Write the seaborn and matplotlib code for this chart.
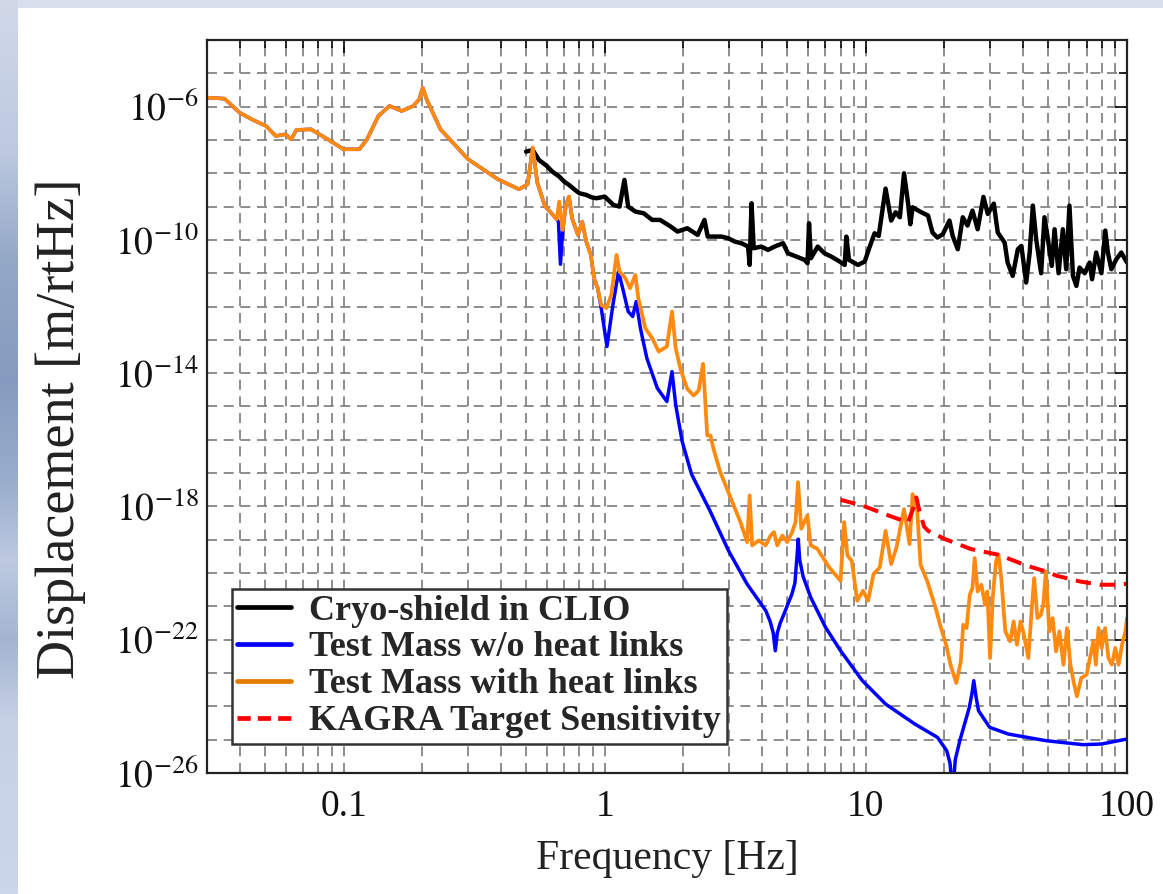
import numpy as np
import pandas as pd
import matplotlib
matplotlib.use("Agg")
import matplotlib.pyplot as plt
import seaborn as sns
from matplotlib.ticker import FixedLocator, NullFormatter, FixedFormatter
from matplotlib.lines import Line2D
from matplotlib.patches import Rectangle

# ---------------- data (frequency in Hz, displacement as log10 [m/rtHz]) -------------
# shared low-frequency part of both test-mass curves
low_f = [0.030, 0.035, 0.040, 0.045, 0.0505, 0.055, 0.060, 0.063, 0.066, 0.075,
         0.087, 0.100, 0.115, 0.123, 0.136, 0.150, 0.167, 0.185, 0.195, 0.201,
         0.208, 0.235, 0.300, 0.390, 0.470, 0.507, 0.530, 0.552, 0.590, 0.655]
low_logd = [-5.73, -5.76, -6.18, -6.40, -6.58, -6.88, -6.83, -6.98, -6.70, -6.68,
            -6.98, -7.28, -7.28, -6.98, -6.28, -5.98, -6.13, -5.98, -5.78, -5.43,
            -5.78, -6.68, -7.58, -8.18, -8.48, -8.33, -7.23, -8.28, -8.98, -9.38]

# Test Mass with heat links (orange), above 0.655 Hz
with_f = [0.670, 0.690, 0.710, 0.730, 0.750, 0.790, 0.820, 0.850, 0.885, 0.910,
          0.940, 0.970, 1.015, 1.060, 1.110, 1.140, 1.200, 1.250, 1.310, 1.345,
          1.430, 1.520, 1.610, 1.730, 1.810, 1.870, 1.950, 2.070, 2.190, 2.290,
          2.380, 2.470, 2.540, 2.610, 2.770, 2.940, 3.120, 3.310, 3.510, 3.590,
          3.670, 3.890, 4.130, 4.320, 4.450, 4.580, 4.790, 5.000, 5.220, 5.380,
          5.500, 5.660, 5.970, 6.150, 6.520, 6.900, 7.240, 8.000, 8.260, 8.500,
          8.830, 9.270, 9.750, 10.20, 10.70, 11.30, 11.90, 12.50, 13.10, 14.00,
          14.70, 15.10, 15.70, 16.20, 17.20, 18.50, 19.40, 20.30, 21.10, 22.20,
          23.10, 23.60, 24.30, 25.00, 25.60, 26.10, 26.80, 27.70, 28.60, 29.20,
          29.90, 30.60, 31.50, 32.20, 33.00, 34.20, 35.70, 36.80, 37.90, 39.10,
          40.30, 41.90, 43.20, 44.10, 45.40, 46.80, 47.80, 48.90, 50.40, 51.90,
          53.50, 55.10, 57.10, 58.90, 60.70, 62.40, 64.30, 66.80, 70.00, 72.10,
          74.30, 76.00, 77.80, 80.00, 82.40, 84.90, 87.50, 90.20, 92.90, 95.70,
          98.60, 100.0]
with_logd = [-8.85, -9.70, -8.95, -8.70, -9.35, -9.85, -9.45, -10.05, -10.45, -11.15,
             -11.45, -11.95, -12.05, -11.65, -10.45, -10.95, -11.15, -11.45, -11.05, -11.75,
             -12.65, -12.95, -13.35, -13.20, -12.15, -13.25, -13.87, -14.47, -14.67, -14.52,
             -13.72, -15.87, -15.87, -16.27, -16.97, -17.47, -17.97, -18.47, -19.07, -17.67,
             -19.17, -19.02, -19.17, -18.87, -18.77, -19.17, -18.87, -19.07, -18.77, -18.47,
             -17.27, -18.67, -18.27, -19.17, -19.27, -19.57, -19.83, -20.23, -18.47, -19.47,
             -19.63, -20.83, -20.53, -20.83, -20.03, -19.83, -18.73, -19.73, -19.23, -18.08,
             -19.13, -17.63, -18.03, -19.75, -20.25, -21.05, -21.65, -22.15, -22.75, -23.30,
             -22.65, -21.55, -21.65, -20.65, -20.45, -19.55, -20.55, -20.35, -20.95, -20.55,
             -22.55, -20.75, -19.65, -19.45, -20.15, -21.75, -22.05, -21.45, -22.15, -21.45,
             -21.85, -22.55, -21.05, -20.15, -21.35, -21.25, -20.95, -19.95, -21.75, -21.35,
             -22.35, -21.75, -22.75, -21.65, -22.75, -23.25, -23.70, -23.15, -23.05, -22.55,
             -22.05, -22.75, -21.65, -22.25, -21.65, -22.55, -22.75, -22.25, -22.75, -22.15,
             -21.75, -21.35]

# Test Mass w/o heat links (blue), above 0.655 Hz
wo_f = [0.665, 0.677, 0.690, 0.710, 0.730, 0.750, 0.790, 0.820, 0.850, 0.885,
        0.910, 0.940, 0.970, 1.020, 1.075, 1.130, 1.180, 1.230, 1.280, 1.320,
        1.370, 1.450, 1.590, 1.730, 1.810, 1.870, 1.980, 2.150, 2.530, 2.980,
        3.510, 4.140, 4.300, 4.420, 4.500, 4.580, 4.700, 4.800, 5.210, 5.350,
        5.450, 5.510, 5.580, 5.750, 6.150, 7.010, 8.000, 9.700, 11.90, 15.40,
        18.80, 20.40, 21.00, 21.50, 22.00, 22.90, 24.90, 25.50, 25.90, 26.40,
        27.00, 29.80, 35.10, 48.90, 67.80, 80.00, 100.0]
wo_logd = [-9.45, -10.73, -9.75, -8.95, -8.70, -9.35, -9.85, -9.45, -10.05, -10.45,
           -11.15, -11.45, -12.05, -13.20, -11.95, -10.95, -11.55, -12.15, -12.30, -11.85,
           -12.65, -13.55, -14.45, -14.85, -13.95, -14.95, -16.05, -17.03, -18.13, -19.33,
           -20.33, -21.13, -21.45, -21.80, -22.33, -21.80, -21.50, -21.33, -20.63, -20.30,
           -19.50, -18.98, -19.60, -20.10, -20.73, -21.63, -22.33, -23.23, -23.93, -24.53,
           -24.93, -25.33, -25.70, -26.60, -25.60, -25.03, -24.03, -23.60, -23.23, -23.70,
           -24.13, -24.63, -24.83, -25.03, -25.15, -25.13, -24.98]

# Cryo-shield in CLIO (black)
clio_f = [0.50, 0.53, 0.56, 0.60, 0.63, 0.67, 0.70, 0.73, 0.77, 0.80,
          0.85, 0.89, 0.93, 1.00, 1.08, 1.14, 1.19, 1.23, 1.31, 1.41,
          1.52, 1.63, 1.79, 1.90, 2.07, 2.27, 2.41, 2.48, 2.80, 2.97,
          3.15, 3.34, 3.54, 3.59, 3.65, 3.72, 3.98, 4.22, 4.47, 4.82,
          5.03, 5.42, 5.83, 5.98, 6.06, 6.16, 6.54, 6.94, 7.37, 7.94,
          8.30, 8.42, 8.62, 9.33, 9.90, 10.3, 10.8, 11.2, 11.9, 12.5,
          13.0, 13.5, 14.0, 14.5, 14.8, 15.1, 16.3, 17.3, 18.0, 18.8,
          19.7, 20.9, 21.5, 22.5, 23.5, 24.5, 25.6, 26.8, 28.2, 29.3,
          30.9, 32.0, 34.0, 34.9, 36.5, 38.2, 39.4, 41.1, 42.4, 43.6,
          44.9, 46.9, 48.3, 49.8, 51.5, 52.8, 54.7, 56.8, 58.5, 60.2,
          62.1, 64.0, 65.8, 68.9, 71.9, 73.5, 76.2, 79.8, 82.6, 84.5,
          87.1, 91.0, 95.1, 100.0]
clio_logd = [-7.35, -7.30, -7.60, -7.78, -7.95, -8.10, -8.25, -8.35, -8.50, -8.60,
             -8.65, -8.72, -8.75, -8.70, -8.95, -9.00, -8.20, -9.00, -9.15, -9.20,
             -9.40, -9.40, -9.60, -9.75, -9.65, -9.85, -9.40, -9.90, -9.90, -9.95,
             -10.05, -10.10, -10.20, -10.75, -8.90, -10.25, -10.20, -10.30, -10.20, -10.10,
             -10.40, -10.50, -10.60, -10.70, -9.50, -10.55, -10.20, -10.40, -10.50, -10.65,
             -10.75, -9.90, -10.60, -10.75, -10.65, -10.25, -9.80, -9.88, -8.46, -9.42,
             -9.17, -9.32, -8.00, -8.88, -9.53, -9.02, -9.17, -9.27, -9.78, -9.93,
             -9.83, -9.42, -9.88, -10.28, -9.32, -9.57, -9.12, -9.68, -8.71, -9.22,
             -8.91, -9.78, -10.08, -10.68, -11.08, -10.28, -10.18, -11.28, -10.38, -8.97,
             -9.98, -11.00, -9.32, -9.98, -10.78, -9.68, -11.00, -9.68, -10.88, -8.97,
             -11.08, -11.38, -10.83, -11.00, -10.68, -11.18, -10.38, -11.00, -9.72, -10.38,
             -10.88, -10.58, -10.38, -10.68]

# KAGRA Target Sensitivity (red dashed)
kagra_f = [8.0, 9.75, 12.3, 14.5, 15.2, 15.6, 16.0, 16.7, 17.3, 20.1,
           25.3, 32.2, 41.4, 48.9, 53.8, 65.9, 78.7, 90.0, 100.0]
kagra_logd = [-17.80, -17.98, -18.28, -18.48, -18.05, -17.73, -18.10, -18.60, -18.73, -18.98,
              -19.28, -19.45, -19.78, -19.95, -20.08, -20.25, -20.35, -20.35, -20.32]

labels = ["Cryo-shield in CLIO", "Test Mass w/o heat links",
          "Test Mass with heat links", "KAGRA Target Sensitivity"]
y_major_exp = [-26, -22, -18, -14, -10, -6]
x_major = [0.1, 1, 10, 100]
x_major_labels = ["0.1", "1", "10", "100"]

# ---------------- build frames -------------
def frame(f, logd):
    return pd.DataFrame({"f": np.asarray(f, float), "d": 10.0 ** np.asarray(logd, float)})

df_clio = frame(clio_f, clio_logd)
df_wo = frame(low_f + wo_f, low_logd + wo_logd)
df_with = frame(low_f + with_f, low_logd + with_logd)
df_kagra = frame(kagra_f, kagra_logd)

# ---------------- style -------------
sns.set_theme(style="white")
plt.rcParams['font.family'] = ['Liberation Serif', 'DejaVu Serif']
plt.rcParams['mathtext.fontset'] = 'stix'

W, H = 1163, 894
fig = plt.figure(figsize=(W / 100, H / 100), dpi=100)
fig.patch.set_facecolor('#d8dfec')

# slide-like background: blue gradient strip at the left, white panel
bg = fig.add_axes([0, 0, 1, 1], zorder=-10)
bg.set_xlim(0, W)
bg.set_ylim(H, 0)
bg.axis('off')
stops_y = np.array([0, 150, 260, 380, 480, 560, 640, 720, 894])
stops_c = np.array([[0.82, 0.85, 0.91], [0.74, 0.79, 0.88], [0.58, 0.66, 0.78],
                    [0.52, 0.61, 0.75], [0.60, 0.68, 0.80], [0.74, 0.79, 0.88],
                    [0.64, 0.71, 0.82], [0.78, 0.82, 0.90], [0.80, 0.84, 0.92]])
yy = np.arange(H)
grad = np.stack([np.interp(yy, stops_y, stops_c[:, k]) for k in range(3)], axis=-1)
grad = np.repeat(grad[:, None, :], 2, axis=1)
bg.imshow(grad, extent=[0, 18, H, 0], aspect='auto', interpolation='bilinear')
bg.add_patch(Rectangle((18, 8), W - 18, H - 8, facecolor='white', edgecolor='none'))

ax = fig.add_axes([207 / W, (H - 773) / H, 920 / W, 733 / H])
ax.set_facecolor('white')
ax.set_xscale('log')
ax.set_yscale('log')

grid_kw = dict(color='#7a7a7a', linewidth=1.2, linestyle=(0, (6, 4)))
ax.grid(True, which='both', axis='both', **grid_kw)
ax.set_axisbelow(True)

sns.lineplot(data=df_clio, x='f', y='d', ax=ax, color='black', linewidth=3.2,
             estimator=None, sort=False, legend=False)
sns.lineplot(data=df_wo, x='f', y='d', ax=ax, color='#0000ff', linewidth=2.5,
             estimator=None, sort=False, legend=False)
sns.lineplot(data=df_with, x='f', y='d', ax=ax, color='#ff8a0f', linewidth=2.7,
             estimator=None, sort=False, legend=False)
sns.lineplot(data=df_kagra, x='f', y='d', ax=ax, color='#ff0000', linewidth=2.9,
             estimator=None, sort=False, legend=False)
ax.lines[-1].set_dashes([3.8, 2.2])

ax.set_xlim(0.03, 100)
ax.set_ylim(1e-26, 1e-4)

# ticks
ax.xaxis.set_major_locator(FixedLocator(x_major))
ax.xaxis.set_major_formatter(FixedFormatter(x_major_labels))
xminor = [m * 10.0 ** e for e in range(-2, 2) for m in range(2, 10)]
xminor = [v for v in xminor if 0.03 <= v <= 100]
ax.xaxis.set_minor_locator(FixedLocator(xminor))
ax.xaxis.set_minor_formatter(NullFormatter())

ax.yaxis.set_major_locator(FixedLocator([10.0 ** e for e in y_major_exp]))
ax.yaxis.set_major_formatter(FixedFormatter([r"$10^{%d}$" % e for e in y_major_exp]))
ax.yaxis.set_minor_locator(FixedLocator([10.0 ** e for e in range(-26, -3) if e not in y_major_exp]))
ax.yaxis.set_minor_formatter(NullFormatter())

ax.tick_params(which='both', direction='in', top=True, right=True, colors='black',
               labelcolor='#111111', width=1.2)
ax.tick_params(which='major', length=9)
ax.tick_params(which='minor', length=6)
ax.tick_params(axis='x', which='major', pad=12, labelsize=27)
ax.tick_params(axis='y', which='major', pad=6, labelsize=27)

for s in ax.spines.values():
    s.set_color('#222222')
    s.set_linewidth(1.6)

ax.set_xlabel("Frequency [Hz]", fontsize=30, color='#222222')
ax.set_ylabel("Displacement [m/rtHz]", fontsize=39, color='#222222')
ax.xaxis.set_label_coords(0.5, -0.091)
ax.yaxis.set_label_coords(-0.131, 0.47)

handles = [Line2D([], [], color='black', lw=3.4),
           Line2D([], [], color='#0000ff', lw=3.4),
           Line2D([], [], color='#e57a00', lw=3.4),
           Line2D([], [], color='#ff0000', lw=3.4, dashes=[2.8, 1.5])]
leg = ax.legend(handles, labels, loc='lower left', bbox_to_anchor=(0.027, 0.04),
                borderaxespad=0, frameon=True, fancybox=False, framealpha=1,
                prop={'weight': 'bold', 'size': 26, 'family': ['Liberation Serif']},
                handlelength=1.5, handletextpad=0.5, labelspacing=0.1,
                borderpad=0.15)
leg.get_frame().set_edgecolor('#333333')
leg.get_frame().set_linewidth(1.8)

fig.savefig("out.png", dpi=100, facecolor=fig.get_facecolor())
